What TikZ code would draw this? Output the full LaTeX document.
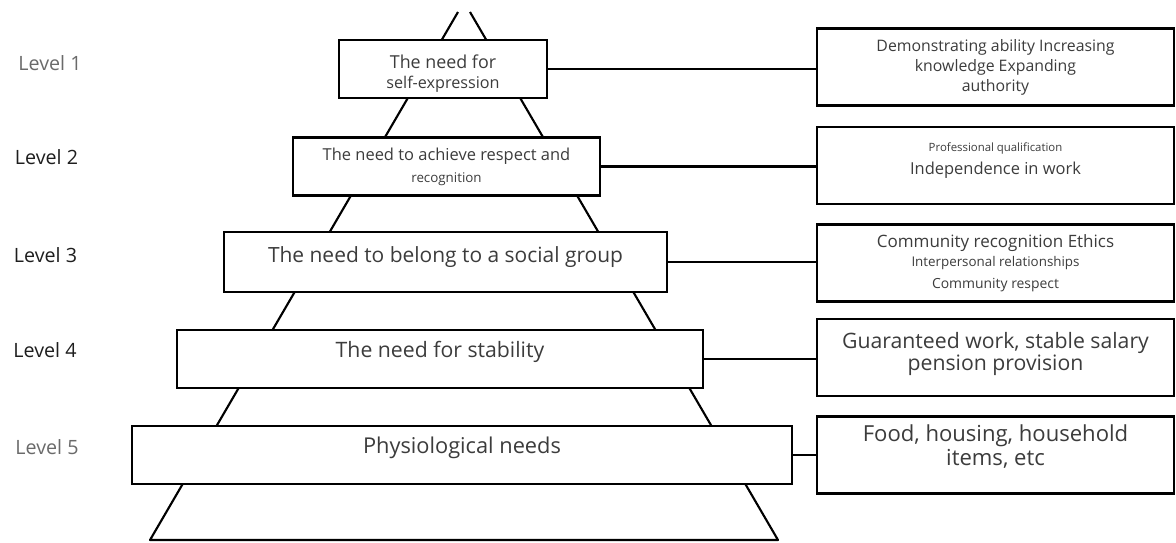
\documentclass[tikz,border=0pt]{standalone}
\usepackage{fontspec}
\setmainfont{Open Sans}
\usepackage{xcolor}
\usetikzlibrary{positioning,calc}
\definecolor{ink}{HTML}{3C3C3C}
\definecolor{dark}{HTML}{1E1E1E}
\definecolor{faint}{HTML}{6A6A6A}

\begin{document}
\begin{tikzpicture}[
				x=0.025cm, y=-0.025cm,
				box/.style={
					rectangle, draw, line width=1.5pt, fill=white,
					align=center, text=ink, inner sep=0pt
				},
				needbox/.style={
					box, minimum height=1.45cm
				},
				infobox/.style={
					box, minimum width=8.925cm, minimum height=1.925cm
				},
				lvl/.style={
					text=#1, font=\fontsize{14}{16}\selectfont
				},
				link/.style={line width=1.5pt},
				lift/.style={text depth=#1},
				sink/.style={text height=#1},
				]
				
				\useasboundingbox (0,0) rectangle (1176,542);
				
				%pyramid
				\draw[link, line join=round] (458,12) -- (150,540) -- (778,540) -- (470,12);
				
				%1. level
				\node[lvl=faint] (lvl1) at (50,63) {Level 1};
				\node[needbox, minimum width=5.2cm, sink=31pt, font=\fontsize{12.7}{14.2}\selectfont] (expr) at (443,69) {The need for\\{\fontsize{11.5}{14.2}\selectfont self-expression}};
				\node[infobox, font=\fontsize{11.25}{14.2}\selectfont] (exprex) at (995.5,67) {Demonstrating ability Increasing\\knowledge Expanding\\authority};
				\draw[link] (expr.east) -- (expr.east -| exprex.west);
				
				%2. level
				\node[lvl=dark] (lvl2) at (46.5,157) {Level 2};
				\node[needbox, minimum width=7.675cm, font=\fontsize{11.7}{15.6}\selectfont] (resp) at (446.5,166.5) {The need to achieve respect and\\{\fontsize{9.5}{15.6}\selectfont recognition}};
				\node[infobox, lift=9.9pt, font=\fontsize{11.7}{16}\selectfont] (respex) at (995.5,165.5) {{\fontsize{8.1}{10}\selectfont Professional qualification}\\Independence in work};
				\draw[link] (resp.east) -- (resp.east -| respex.west);
				
				%3. level
				\node[lvl=dark] (lvl3) at (45.5,255) {Level 3};
				\node[needbox, minimum width=11.075cm, minimum height=1.5cm, lift=10.2pt, font=\fontsize{14.9}{18}\selectfont] (group) at (445.5,262) {The need to belong to a social group};
				\node[infobox, font=\fontsize{12.1}{13.5}\selectfont] (groupex) at (995.5,263) {Community recognition Ethics\\{\fontsize{9.5}{13}\selectfont Interpersonal relationships}\\[2pt]{\fontsize{9.9}{13}\selectfont Community respect}};
				\draw[link] (group.east) -- (group.east -| groupex.west);
				
				%4. level
				\node[lvl=dark] (lvl4) at (45,350) {Level 4};
				\node[needbox, minimum width=13.15cm, lift=14.4pt, font=\fontsize{15.1}{18}\selectfont] (stab) at (440,359) {The need for stability};
				\node[infobox, lift=9.3pt, font=\fontsize{15.1}{15.6}\selectfont] (stabex) at (995.5,357.5) {Guaranteed work, stable salary\\pension provision};
				\draw[link] (stab.east) -- (stab.east -| stabex.west);
				
				%5. level
				\node[lvl=faint] (lvl5) at (47,447) {Level 5};
				\node[needbox, minimum width=16.5cm, lift=14.5pt, font=\fontsize{15.5}{18}\selectfont] (phys) at (462,455) {Physiological needs};
				\node[infobox, lift=13.8pt, font=\fontsize{15.7}{17}\selectfont] (physex) at (995.5,455) {Food, housing, household\\items, etc};
				\draw[link] (phys.east) -- (phys.east -| physex.west);
			\end{tikzpicture}
\end{document}
